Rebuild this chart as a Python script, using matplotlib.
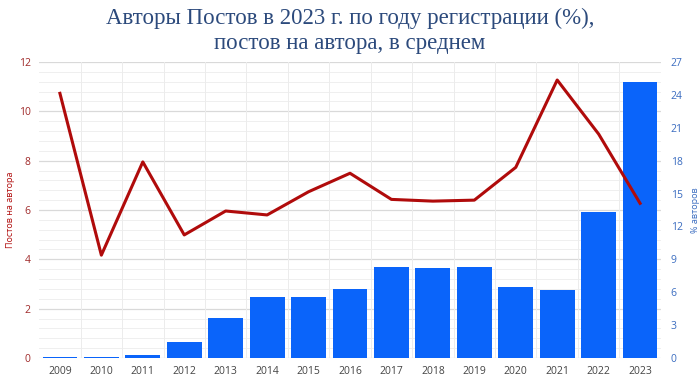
import matplotlib
matplotlib.use("Agg")
import matplotlib.pyplot as plt
import numpy as np
from matplotlib.ticker import MultipleLocator

years = ["2009", "2010", "2011", "2012", "2013", "2014", "2015", "2016",
         "2017", "2018", "2019", "2020", "2021", "2022", "2023"]
authors_pct = [0.08, 0.12, 0.3, 1.5, 3.62, 5.6, 5.6, 6.27,
               8.33, 8.18, 8.27, 6.48, 6.2, 13.35, 25.2]
posts_per_author = [10.73, 4.17, 7.95, 4.99, 5.96, 5.8, 6.74, 7.49,
                    6.43, 6.36, 6.40, 7.73, 11.27, 9.08, 6.27]

title = "Авторы Постов в 2023 г. по году регистрации (%),\nпостов на автора, в среднем"
left_label = "Постов на автора"
right_label = "% авторов"

red = "#b00b0b"
blue = "#0a64fa"
red_txt = "#a02a2a"
blue_txt = "#3a6cc0"

fig = plt.figure(figsize=(7.0, 3.91), dpi=100)
ax = fig.add_axes([0.056, 0.0844, 0.888, 0.757])
ax2 = ax.twinx()

x = np.arange(len(years))
ax2.bar(x, authors_pct, width=0.84, color=blue, zorder=2)
ax2.set_ylim(0, 27)
ax2.yaxis.set_major_locator(MultipleLocator(3))
ax2.set_xlim(-0.5, len(years) - 0.5)

ax.set_zorder(ax2.get_zorder() + 1)
ax.patch.set_visible(False)
ax2.patch.set_visible(True)
ax2.patch.set_facecolor("white")

ax.plot(x, posts_per_author, color=red, lw=2.2, zorder=5)
ax.set_ylim(0, 12)
ax.set_xlim(-0.5, len(years) - 0.5)
ax.yaxis.set_major_locator(MultipleLocator(2))
ax.set_xticks(x)
ax.set_xticklabels(years)

for v in np.arange(0, 12.01, 0.4):
    if abs(v / 2 - round(v / 2)) < 1e-6:
        ax2.axhline(v * 27 / 12, color="#d9d9d9", lw=0.9, zorder=0)
    else:
        ax2.axhline(v * 27 / 12, color="#efefef", lw=0.7, zorder=0)
for b in np.arange(0.5, len(years) - 0.5, 1):
    ax2.axvline(b, color="#ececec", lw=0.7, zorder=0)

for a in (ax, ax2):
    for s in a.spines.values():
        s.set_visible(False)
    a.tick_params(which="both", length=0)

font = "Open Sans"
ax.tick_params(axis="y", colors=red_txt, labelsize=7.5, pad=6)
ax.tick_params(axis="x", colors="#444444", labelsize=7.5, pad=6)
ax2.tick_params(axis="y", colors=blue_txt, labelsize=7.5, pad=7)
for lbl in ax.get_yticklabels() + ax.get_xticklabels() + ax2.get_yticklabels():
    lbl.set_fontfamily(font)

ax.set_ylabel(left_label, color=red, fontsize=6.5, family=font, labelpad=3)
ax2.set_ylabel(right_label, color=blue_txt, fontsize=6.5, family=font, labelpad=6, rotation=90)

fig.text(0.5, 1 - 31 / 391, title, fontsize=16.5, color="#2c4a7c",
         family="Liberation Serif", ha="center", va="center", linespacing=1.3)

fig.savefig("out.png", dpi=100)
